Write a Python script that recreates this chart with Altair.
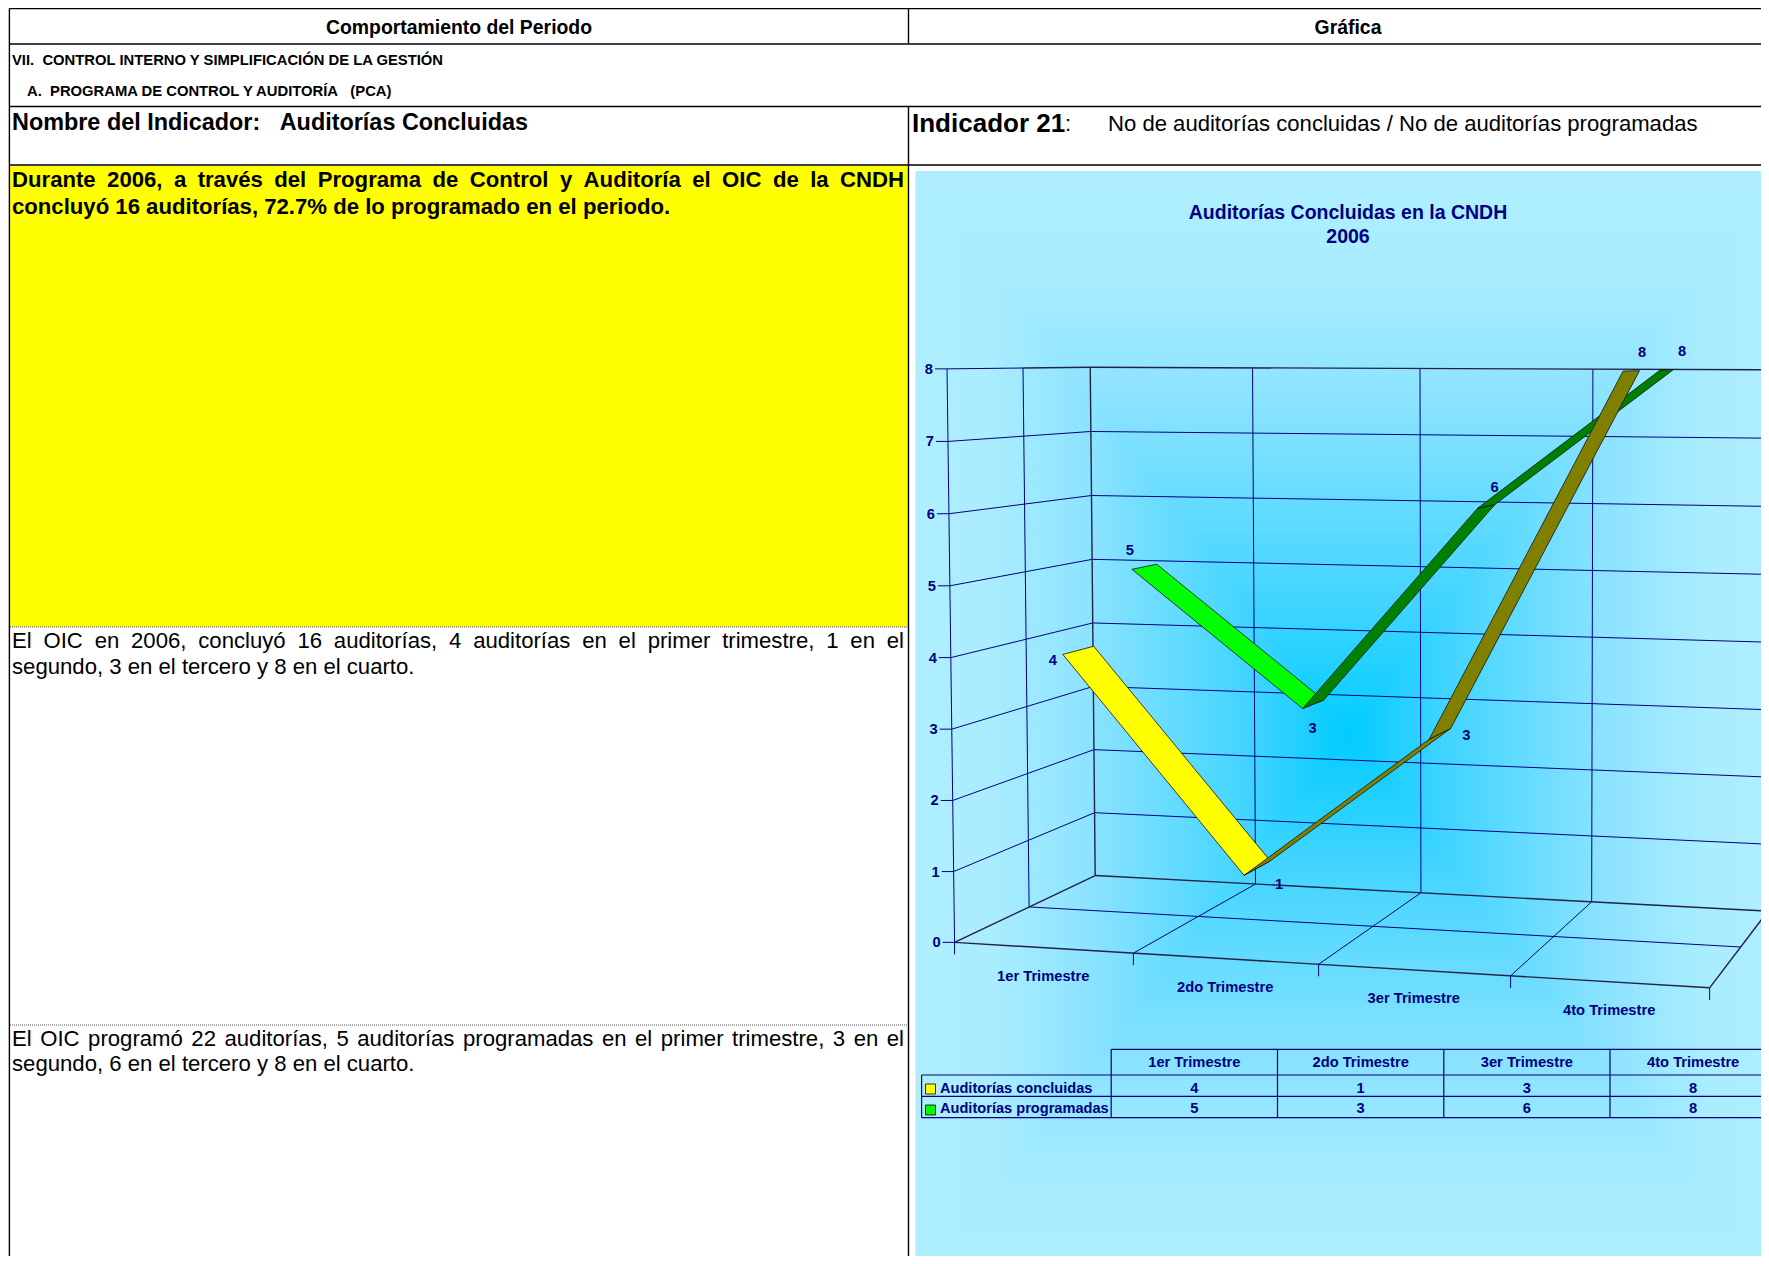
import altair as alt
import numpy as np
import pandas as pd

TRIMESTRES = ["1er Trimestre", "2do Trimestre", "3er Trimestre", "4to Trimestre"]
SERIES = ["Auditorías concluidas", "Auditorías programadas"]
CONCLUIDAS = [4, 1, 3, 8]
PROGRAMADAS = [5, 3, 6, 8]
Y_TICKS = list(range(9))

NAVY = "#000080"
FONT = "Liberation Sans"

# ---------- page-pixel scales ----------
W, H = 1753, 1248
X = dict(scale=alt.Scale(domain=[8, 8 + W], range=[0, W]), axis=None)
Y = dict(scale=alt.Scale(domain=[8, 8 + H], range=[0, H]), axis=None)


def ex(f="x"):
    return alt.X(f"{f}:Q", **X)


def ey(f="y"):
    return alt.Y(f"{f}:Q", **Y)


def rules(segs, color, width=1.0, dash=None, opacity=1.0):
    df = pd.DataFrame(segs, columns=["x", "y", "x2", "y2"])
    kw = dict(color=color, strokeWidth=width, opacity=opacity, clip=True)
    if dash:
        kw["strokeDash"] = dash
    return alt.Chart(df).mark_rule(**kw).encode(
        x=ex(), y=ey(), x2=alt.X2("x2:Q"), y2=alt.Y2("y2:Q"))


def texts(rows, size, bold=False, color="black", align="left"):
    df = pd.DataFrame(rows, columns=["x", "y", "t"])
    return alt.Chart(df).mark_text(
        font=FONT, fontSize=size, fontWeight="bold" if bold else "normal",
        color=color, align=align, baseline="middle", clip=True,
    ).encode(x=ex(), y=ey(), text="t:N")


# ---------- justified lines ----------
REG = dict(zip("abcdefghijklmnopqrstuvwxyz",
               [556, 556, 500, 556, 556, 278, 556, 556, 222, 222, 500, 222, 833, 556, 556, 556, 556, 333, 500, 278, 556, 500, 722, 500, 500, 500]))
REG.update({"í": 278, "ó": 556, "O": 778, "I": 278, "C": 722, "E": 667, ",": 278, ".": 278})
BLD = dict(zip("abcdefghijklmnopqrstuvwxyz",
               [556, 611, 556, 611, 556, 333, 611, 611, 278, 278, 556, 278, 889, 611, 611, 611, 611, 389, 556, 333, 611, 556, 778, 556, 556, 500]))
BLD.update({"í": 278, "ó": 611, "é": 556, "O": 778, "I": 278, "C": 722, "D": 722, "N": 722, "H": 722, "P": 667, "A": 722, ",": 278, ".": 278, "%": 889})


def width(word, table, size):
    return sum(table.get(c, 556) for c in word) * size / 1000


def justified(line, x0, x1, y, size, table):
    words = line.split(" ")
    ws = [width(w, table, size) for w in words]
    gap = (x1 - x0 - sum(ws)) / (len(words) - 1)
    rows, x = [], x0
    for w, wd in zip(words, ws):
        rows.append((x, y, w))
        x += wd + gap
    return rows


# ---------- background: rectangular "from centre" gradient ----------
BG_L, BG_T = 915.5, 171
CX, CY = 1348, 733
HW, HH = CX - BG_L, CY - BG_T
levels = np.linspace(1, 0, 120, endpoint=False)
bg = pd.DataFrame({
    "t": levels,
    "x": CX - HW * levels, "x2": CX + HW * levels,
    "y": CY - HH * levels, "y2": CY + HH * levels,
})
background = alt.Chart(bg).mark_rect(clip=True).encode(
    x=ex(), x2=alt.X2("x2:Q"), y=ey(), y2=alt.Y2("y2:Q"),
    color=alt.Color("t:Q", legend=None,
                    scale=alt.Scale(domain=[0, .23, .6, .83, 1],
                                    range=["#00CCFF", "#40D4FF", "#8CE3FF", "#AAEDFF", "#AEEEFF"],
                                    interpolate="rgb")),
    order=alt.Order("t:Q", sort="descending"),
)

# ---------- camera for the 3-D box, (position, value, depth) -> page ----------
CAL = [
    (0, 8, 0, 946, 369.7), (0, 0, 0, 955.4, 941.7), (0, 8, 1, 1090, 367.7), (0, 0, 1, 1095, 875),
    (4, 8, 1, 1768, 369), (4, 0, 1, 1767.5, 911), (4, 0, 0, 1710.4, 988.3),
    (1, 0, 0, 1133.4, 952.3), (2, 0, 0, 1318.5, 964.3), (3, 0, 0, 1510.3, 976),
    (1, 8, 1, 1253, 368), (2, 8, 1, 1421.6, 368), (3, 8, 1, 1596, 369),
    (1, 0, 1, 1255, 885), (2, 0, 1, 1420.5, 893), (3, 0, 1, 1592, 902),
    (0, 8, .5, 1022.5, 368), (0, 0, .5, 1029, 906.7), (4, 0, .5, 1741, 947.3),
]
A, b = [], []
for u, v, d, px, py in CAL:
    A.append([u, v, d, 1, 0, 0, 0, 0, -px * u, -px * v, -px * d]); b.append(px)
    A.append([0, 0, 0, 0, u, v, d, 1, -py * u, -py * v, -py * d]); b.append(py)
p = np.linalg.lstsq(np.array(A, float), np.array(b, float), rcond=None)[0]
P = np.append(p, 1).reshape(3, 4)


def pr(u, v, d):
    w = P @ np.array([u, v, d, 1.0])
    return float(w[0] / w[2]), float(w[1] / w[2])


def seg(a, b2):
    return (*pr(*a), *pr(*b2))


US = range(5)
grid = [seg((0, v, 1), (4, v, 1)) for v in Y_TICKS[1:8]]
grid += [seg((0, v, 0), (0, v, 1)) for v in Y_TICKS[1:8]]
grid += [seg((u, 0, 1), (u, 8, 1)) for u in [1, 2, 3]]
grid += [seg((0, 0, 0), (0, 8, 0)), seg((0, 0, .5), (0, 8, .5)), seg((0, 8, 0), (0, 8, .5))]
grid += [seg((u, 0, 0), (u, 0, 1)) for u in [1, 2, 3]]
grid += [seg((0, 0, .5), (4, 0, .5))]
dark = [seg((0, 0, 1), (0, 8, 1)), seg((0, 8, 1), (4, 8, 1)), seg((0, 0, 1), (4, 0, 1)),
        seg((0, 0, 0), (4, 0, 0)), seg((0, 0, 0), (0, 0, 1)), seg((4, 0, 0), (4, 0, 1)),
        seg((4, 0, 1), (4, 8, 1)), seg((0, 8, .5), (0, 8, 1))]
ticks = []
for v in Y_TICKS:
    x, y = pr(0, v, 0)
    ticks.append((x - 12, y, x, y))
for u in US:
    x, y = pr(u, 0, 0)
    ticks.append((x, y, x, y + 12))

y_labels = [(pr(0, v, 0)[0] - 14, pr(0, v, 0)[1] + 1, str(v)) for v in Y_TICKS]
x_labels = [(pr(i + .5, 0, 0)[0], pr(i + .5, 0, 0)[1] + 29, t) for i, t in enumerate(TRIMESTRES)]


# ---------- ribbons ----------
def ribbon_faces(values, d0, d1):
    rows = []
    for i in range(3):
        u0, u1 = i + .5, i + 1.5
        quad = [pr(u0, values[i], d0), pr(u0, values[i], d1), pr(u1, values[i + 1], d1), pr(u1, values[i + 1], d0)]
        for k, (x, y) in enumerate(quad):
            rows.append(dict(face=i, seq=k, x=x, y=y))
    return pd.DataFrame(rows)


def faces(df, color):
    return alt.Chart(df).mark_line(
        fill=color, stroke="#111111", strokeWidth=0.8, interpolate="linear-closed", clip=True
    ).encode(x=ex(), y=ey(), detail="face:N", order="seq:Q")


def ribbon(values, d0, d1, c_down, c_up):
    df = ribbon_faces(values, d0, d1)
    out = []
    for i in range(3):
        c = c_down if values[i + 1] < values[i] else c_up
        out.append(faces(df[df.face == i], c))
    return out


D_A = (.155, .375)
D_B = (.67, .87)
rib_b = ribbon(PROGRAMADAS, *D_B, "#00FF00", "#008000")
rib_a = ribbon(CONCLUIDAS, *D_A, "#FFFF00", "#808000")

# data labels: value text sits beside its point
NUDGE_A = [(-10, 7), (35, 10), (37, -3), (19, -18)]
NUDGE_B = [(-2, -18), (10, 21), (17, -20), (22, -18)]
dl = []
for vals, (d0, d1), nud in [(CONCLUIDAS, D_A, NUDGE_A), (PROGRAMADAS, D_B, NUDGE_B)]:
    for i, v in enumerate(vals):
        x, y = pr(i + .5, v, d0)
        dl.append((x + nud[i][0], y + nud[i][1], str(v)))

# ---------- data table under the chart ----------
T_X = [1111.2, 1277.5, 1443.8, 1610, 1776.3]
T_Y = [1049.3, 1075, 1096.3, 1117.7]
T_L = 921.6
tline = [(x, T_Y[0], x, T_Y[3]) for x in T_X]
tline += [(T_L, T_Y[1], T_L, T_Y[3]), (T_X[0], T_Y[0], 1769, T_Y[0])]
tline += [(T_L, y, 1769, y) for y in T_Y[1:]]
col_c = [(T_X[i] + T_X[i + 1]) / 2 for i in range(4)]
t_head = [(c, 1063.3, t) for c, t in zip(col_c, TRIMESTRES)]
t_vals = [(c, 1088.7, str(v)) for c, v in zip(col_c, CONCLUIDAS)] + \
         [(c, 1109.3, str(v)) for c, v in zip(col_c, PROGRAMADAS)]
t_names = [(940, 1088.7, SERIES[0]), (940, 1109.3, SERIES[1])]
swatches = pd.DataFrame({"x": [925.5, 925.5], "x2": [935.5, 935.5], "y": [1084, 1105], "y2": [1094, 1115],
                         "s": SERIES})
sw = alt.Chart(swatches).mark_rect(stroke="black", strokeWidth=0.8).encode(
    x=ex(), x2=alt.X2("x2:Q"), y=ey(), y2=alt.Y2("y2:Q"),
    fill=alt.Fill("s:N", legend=None, scale=alt.Scale(domain=SERIES, range=["#FFFF00", "#00FF00"])))

# ---------- page table ----------
yellow = alt.Chart(pd.DataFrame({"x": [10], "x2": [908], "y": [166], "y2": [627]})).mark_rect(color="#FFFF00").encode(
    x=ex(), x2=alt.X2("x2:Q"), y=ey(), y2=alt.Y2("y2:Q"))
frame = rules([
    (9.4, 8.5, 1769, 8.5), (9.4, 44, 1769, 44), (9.4, 106.5, 1769, 106.5), (9.4, 165, 1769, 165),
    (9.4, 8.5, 9.4, 1264), (908.5, 8.5, 908.5, 44), (908.5, 106.5, 908.5, 1264),
], "black", 1.4)
dots = rules([(10, 627, 908, 627), (10, 1025, 908, 1025)], "#555555", 1, dash=[1, 1])

SIZE_BODY = 22.15
p_text = justified("Durante 2006, a través del Programa de Control y Auditoría el OIC de la CNDH", 12, 904, 180, SIZE_BODY, BLD)
p_text2 = [(12, 206.5, "concluyó 16 auditorías, 72.7% de lo programado en el periodo.")]
r1 = justified("El OIC en 2006, concluyó 16 auditorías, 4 auditorías en el primer trimestre, 1 en el", 12, 904, 640.5, SIZE_BODY, REG)
r2 = justified("El OIC programó 22 auditorías, 5 auditorías programadas en el primer trimestre, 3 en el", 12, 904, 1038.5, SIZE_BODY, REG)
r1b = [(12, 666.5, "segundo, 3 en el tercero y 8 en el cuarto.")]
r2b = [(12, 1064, "segundo, 6 en el tercero y 8 en el cuarto.")]

layers = [
    background, yellow,
    rules(grid, NAVY, 1.0),
    rules(dark, "#222244", 1.4),
    rules(ticks, NAVY, 1.0),
    *rib_b, *rib_a,
    rules(tline, NAVY, 1.2),
    sw,
    frame, dots,
    texts([(459, 28, "Comportamiento del Periodo"), (1348, 28, "Gráfica")], 19.4, True, align="center"),
    texts([(12, 61, "VII.\u00a0\u00a0CONTROL INTERNO Y SIMPLIFICACIÓN DE LA GESTIÓN")], 14.8, True),
    texts([(27, 92, "A.\u00a0\u00a0PROGRAMA DE CONTROL Y AUDITORÍA\u00a0\u00a0\u00a0(PCA)")], 14.8, True),
    texts([(12, 123, "Nombre del Indicador:\u00a0\u00a0\u00a0Auditorías Concluidas")], 23.4, True),
    texts([(912, 124, "Indicador 21")], 26, True),
    texts([(1065, 124, ":")], 22),
    texts([(1108, 124, "No de auditorías concluidas / No de auditorías programadas")], 22.1),
    texts(p_text + p_text2, SIZE_BODY, True),
    texts(r1 + r1b + r2 + r2b, SIZE_BODY),
    texts([(1348, 213, "Auditorías Concluidas en la CNDH"), (1348, 236.5, "2006")], 19.5, True, NAVY, "center"),
    texts(y_labels, 14.7, True, NAVY, "right"),
    texts(x_labels, 14.7, True, NAVY, "center"),
    texts(dl, 14.7, True, NAVY, "center"),
    texts(t_head + t_vals, 14.7, True, NAVY, "center"),
    texts(t_names, 14.6, True, NAVY),
]

chart = alt.layer(*layers).properties(
    width=W, height=H, padding=0, autosize=alt.AutoSizeParams(type="none"), background="white",
).configure_view(stroke=None)

chart.save("out.html", embed_options={"renderer": "svg", "actions": False})
